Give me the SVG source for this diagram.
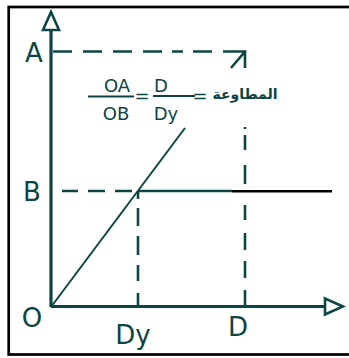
<svg xmlns="http://www.w3.org/2000/svg" width="349" height="358" viewBox="0 0 349 358">
<style>
.ink{stroke:#0d4444;fill:none}
.axis{stroke-width:3.2}
.dash{stroke-width:2.6}
.thin{stroke-width:2}
.lbl{font-family:"DejaVu Sans","Liberation Sans",sans-serif;fill:#0d4444}
.big{font-size:26px}
.frm{font-size:18px}
.ar{font-family:"DejaVu Sans","Noto Sans",sans-serif;font-size:14px;font-weight:bold;fill:#0d4444}
</style>
<defs>
<marker id="tri" markerUnits="userSpaceOnUse" markerWidth="24" markerHeight="22" viewBox="-21 -11 24 22" refX="0" refY="0" orient="auto">
<path d="M0,0 L-18,-8 L-18,8 Z" fill="#ffffff" stroke="#0d4444" stroke-width="2.6" stroke-linejoin="miter"/>
</marker>
</defs>
<rect id="frame" x="8.7" y="7" width="352" height="347.5" fill="#ffffff" stroke="#000000" stroke-width="2.7"/>
<g id="connectors">
<path id="guide-A" class="ink dash" d="M53,51.5H72M83,51.5H102M113,51.5H132M143,51.5H162M172,51.5H183M193,51.5H212M223,51.5H245V68M231,68L245,51.5"/>
<path id="guide-B" class="ink dash" d="M62,191H78M88,191H105M115,191H132"/>
<path id="guide-Dy" class="ink dash" d="M138,191V199M138,208V226M138,236V255M138,265V281M138,293V307"/>
<path id="guide-D" class="ink dash" d="M245,127V129M245,135V150M245,165V184M245,205V220M245,233V250M245,261V278M245,290V307"/>
<path id="line-OB" class="ink thin" d="M51,307L185,128"/>
<path id="plateau" class="ink dash" d="M138,191H232"/>
<path id="plateau-end" d="M232,191.3H332" stroke="#000000" stroke-width="2.6" fill="none"/>
<path id="y-axis" class="ink axis" d="M51,307V12" marker-end="url(#tri)"/>
<path id="x-axis" class="ink axis" d="M51,306.5H343" marker-end="url(#tri)"/>
</g>
<g id="labels">
<text class="lbl big" x="34" y="62" text-anchor="middle">A</text>
<text class="lbl big" x="32" y="201" text-anchor="middle">B</text>
<text class="lbl big" x="32" y="327" text-anchor="middle">O</text>
<text class="lbl big" x="133" y="344" text-anchor="middle">Dy</text>
<text class="lbl big" x="238" y="336" text-anchor="middle">D</text>
</g>
<g id="formula">
<text class="lbl frm" x="117" y="91.5" text-anchor="middle">OA</text>
<path class="ink thin" d="M88,96.5H134"/>
<text class="lbl frm" x="116" y="120" text-anchor="middle">OB</text>
<text class="lbl frm" x="142" y="102" text-anchor="middle">=</text>
<text class="lbl frm" x="161" y="91.5" text-anchor="middle">D</text>
<path class="ink thin" d="M153,96H195"/>
<text class="lbl frm" x="166" y="120" text-anchor="middle">Dy</text>
<text class="lbl frm" x="200" y="101.5" text-anchor="middle">=</text>
<text class="ar" x="245" y="99" text-anchor="middle" direction="rtl">المطاوعة</text>
</g>
</svg>
